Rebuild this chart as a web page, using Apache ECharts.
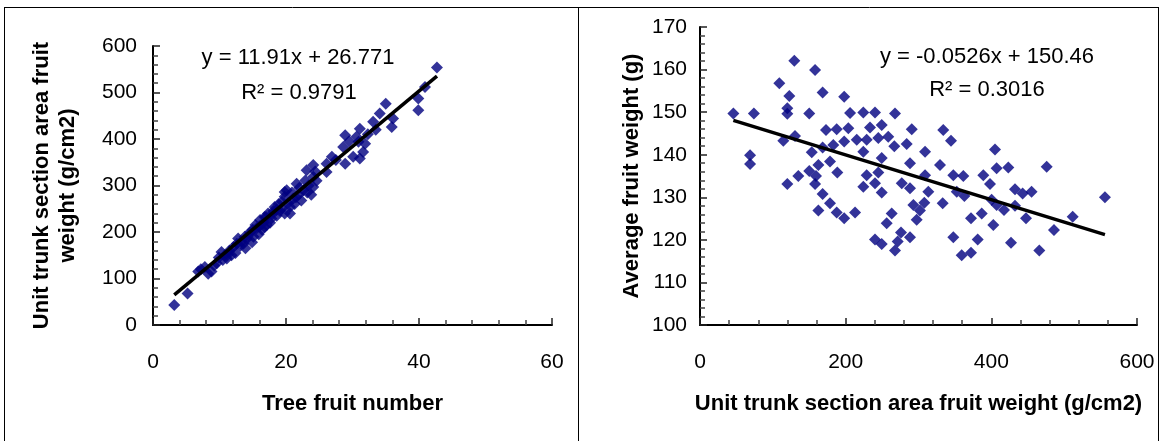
<!DOCTYPE html>
<html>
<head>
<meta charset="utf-8">
<script src="https://cdn.jsdelivr.net/npm/echarts@6/dist/echarts.min.js"></script>
<style>
  html, body { margin: 0; padding: 0; background: #fff; }
  #chart { width: 1162px; height: 441px; }
</style>
</head>
<body>
<div id="chart"></div>
<script>
// Left panel: tree fruit number vs. unit trunk section area fruit weight
const fruitNumber = [3.2, 5.2, 6.8, 7.8, 8.3, 8.8, 9.2, 9.6, 10.3, 10.5, 11.1, 11.5, 11.8, 12.1, 12.4, 12.8, 13.1, 13.6, 13.8, 14.1,
  14.6, 14.9, 15.1, 15.4, 15.6, 15.9, 16.1, 16.4, 16.8, 17.0, 17.3, 17.6, 17.8, 18.1, 18.3, 18.6, 18.9, 19.4, 19.4, 19.8,
  19.8, 19.8, 20.1, 20.3, 20.6, 20.6, 21.1, 21.6, 21.9, 22.3, 22.6, 22.9, 23.1, 23.4, 23.8, 24.1, 24.1, 24.1, 24.4, 26.1,
  26.1, 26.9, 27.5, 28.6, 28.9, 28.9, 29.5, 30.1, 30.6, 30.9, 31.1, 31.1, 31.6, 31.9, 32.3, 33.1, 33.5, 34.1, 35.0, 35.9,
  36.1, 39.9, 39.9, 40.9, 42.7, 7.2, 9.9, 10.8, 12.6, 13.3, 14.3, 15.0, 16.0, 16.6, 17.1, 17.9, 18.6, 19.1, 20.9, 21.3,
  22.0, 23.2, 24.6, 13.9, 11.3, 16.8, 21.5];
const unitWeightA = [43, 68, 115, 125, 110, 115, 128, 133, 157, 140, 143, 160, 150, 168, 155, 186, 170, 175, 190, 185,
  200, 178, 190, 215, 208, 195, 226, 205, 211, 232, 240, 220, 229, 245, 254, 235, 260, 265, 251, 286,
  276, 240, 290, 262, 254, 240, 272, 304, 280, 268, 290, 311, 333, 300, 280, 344, 319, 297, 330, 347,
  329, 362, 355, 383, 408, 347, 395, 362, 405, 394, 422, 358, 372, 390, 410, 437, 420, 455, 476, 426,
  444, 487, 462, 512, 554, 120, 145, 150, 175, 180, 192, 205, 212, 220, 215, 238, 248, 245, 285, 260,
  295, 285, 310, 165, 152, 232, 275];

// Right panel: unit trunk section area fruit weight vs. average fruit weight
const unitWeightB = [45.8, 74, 129.5, 158, 108.9, 122.6, 168.4, 198, 119.9, 119.9, 150, 206, 68.7, 68.7, 130.4, 114.4, 173, 187.7, 203.6, 168.4,
  183, 198, 153.4, 162.5, 178.5, 150, 135, 159.3, 188.5, 119.9, 158, 168.4, 178.5, 162.5, 187.7, 198, 224.2, 240.3, 267.7, 233.4,
  249.5, 290.7, 334, 344.6, 215.2, 228.9, 244.8, 258.5, 266.8, 283.8, 224.2, 309, 249.5, 288.3, 329.5, 405, 228.9, 244.8, 309, 347.8,
  361.5, 389, 224.2, 240.3, 277, 288.3, 249.5, 313.5, 352.5, 363, 398.2, 400.4, 293, 308, 333.2, 212.9, 263.2, 302, 386.8, 372.1,
  256.3, 297.5, 402.7, 240.3, 249.5, 276, 288.3, 271.4, 267.7, 347.8, 381.3, 359.3, 372.1, 407.3, 423.3, 476, 432.5, 443, 455.2, 556,
  407.3, 417.4, 432.5, 447.6, 511.7, 486, 427, 465.9];
const avgWeight = [149.7, 149.7, 162.1, 159.9, 156.8, 153.8, 154.6, 153.6, 150.9, 149.6, 149.7, 149.8, 139.9, 137.8, 144.4, 143.3, 145.8, 146, 146.2, 141.7,
  142.3, 143.1, 140.6, 137.6, 138.4, 136.2, 135, 135, 135.8, 133.1, 133.1, 130.8, 128.6, 126.9, 126.4, 125.1, 149.9, 149.9, 149.7, 146.4,
  147, 146, 145.8, 143.3, 143.5, 143.5, 143.9, 144.2, 142, 142.5, 140.7, 140.7, 139.2, 138, 137.6, 141.2, 135.2, 135.8, 135.2, 135.2,
  135, 135.2, 132.5, 133.3, 133.3, 132.1, 131.1, 131.3, 131.3, 130.3, 133.1, 129.4, 128.2, 128.7, 128.6, 126.4, 126.2, 126.9, 126.2, 125.1,
  123.9, 124.7, 123.5, 120.1, 119, 121.7, 120.6, 119.6, 117.5, 120.6, 120.1, 116.4, 117, 136.8, 137, 137.2, 131.9, 130.9, 131.3, 130,
  128.2, 127, 128, 125.1, 125.4, 122.3, 119.3, 117.5];

// Linear fits (slope, intercept) and their labels
const fitA = [11.91, 26.771];
const fitB = [-0.0526, 150.46];
const fitTextA = ['y = 11.91x + 26.771', 'R\u00b2 = 0.9791'];
const fitTextB = ['y = -0.0526x + 150.46', 'R\u00b2 = 0.3016'];

// Axis titles
const xTitleA = 'Tree fruit number';
const yTitleA = 'Unit trunk section area fruit\nweight (g/cm2)';
const xTitleB = 'Unit trunk section area fruit weight (g/cm2)';
const yTitleB = 'Average fruit weight (g)';

const FONT = "'Liberation Sans', Arial, sans-serif";
const LABEL = { color: '#000', fontSize: 21, fontFamily: FONT };

function pairs(xs, ys) { return xs.map((x, i) => [x, ys[i]]); }
function fitLine(xs, fit) {
  const lo = Math.min(...xs), hi = Math.max(...xs);
  return [[lo, fit[0] * lo + fit[1]], [hi, fit[0] * hi + fit[1]]];
}

function valueAxis(extra, labelMargin) {
  return Object.assign({
    type: 'value',
    splitLine: { show: false },
    axisLine: { show: true, onZero: false, lineStyle: { color: '#000', width: 2 } },
    axisTick: { show: true, inside: true, length: 7, lineStyle: { color: '#222', width: 1.5 } },
    minorTick: { show: true, splitNumber: 5, length: 5, lineStyle: { color: '#444', width: 1.5 } },
    axisLabel: Object.assign({ margin: labelMargin }, LABEL),
    nameLocation: 'middle',
    nameTextStyle: { color: '#000', fontSize: 22, fontWeight: 'bold', fontFamily: FONT, lineHeight: 26 }
  }, extra);
}

const chart = echarts.init(document.getElementById('chart'), null, { renderer: 'canvas' });

chart.setOption({
  animation: false,
  backgroundColor: '#fff',
  grid: [
    { left: 153, top: 46, width: 399, height: 279 },
    { left: 700, top: 27, width: 437, height: 298 }
  ],
  xAxis: [
    valueAxis({ gridIndex: 0, min: 0, max: 60, interval: 20, name: xTitleA, nameGap: 66 }, 27),
    valueAxis({ gridIndex: 1, min: 0, max: 600, interval: 200, name: xTitleB, nameGap: 66 }, 27)
  ],
  yAxis: [
    valueAxis({ gridIndex: 0, min: 0, max: 600, interval: 100, name: yTitleA, nameGap: 72 }, 16),
    valueAxis({ gridIndex: 1, min: 100, max: 170, interval: 10, name: yTitleB, nameGap: 55 }, 13)
  ],
  series: [
    { type: 'scatter', xAxisIndex: 0, yAxisIndex: 0, data: pairs(fruitNumber, unitWeightA),
      symbol: 'diamond', symbolSize: 12, itemStyle: { color: '#000080' }, z: 2 },
    { type: 'line', xAxisIndex: 0, yAxisIndex: 0, data: fitLine(fruitNumber, fitA),
      symbol: 'none', lineStyle: { color: '#000', width: 3.5 }, z: 3 },
    { type: 'scatter', xAxisIndex: 1, yAxisIndex: 1, data: pairs(unitWeightB, avgWeight),
      symbol: 'diamond', symbolSize: 12, itemStyle: { color: '#000080' }, z: 2 },
    { type: 'line', xAxisIndex: 1, yAxisIndex: 1, data: fitLine(unitWeightB, fitB),
      symbol: 'none', lineStyle: { color: '#000', width: 3.5 }, z: 3 }
  ],
  graphic: [
    // panel frames
    { type: 'line', shape: { x1: 4, y1: 7.5, x2: 1158, y2: 7.5 }, style: { stroke: '#000', lineWidth: 1 } },
    { type: 'line', shape: { x1: 4.5, y1: 7, x2: 4.5, y2: 441 }, style: { stroke: '#000', lineWidth: 1 } },
    { type: 'line', shape: { x1: 578.5, y1: 7, x2: 578.5, y2: 441 }, style: { stroke: '#000', lineWidth: 1 } },
    { type: 'line', shape: { x1: 1158.5, y1: 7, x2: 1158.5, y2: 441 }, style: { stroke: '#000', lineWidth: 1 } },
    // fit equations
    { type: 'text', x: 298, y: 58, z: 10, style: { text: fitTextA[0], font: '22px ' + FONT, fill: '#000', textAlign: 'center', textVerticalAlign: 'middle', verticalAlign: 'middle' } },
    { type: 'text', x: 299, y: 93, z: 10, style: { text: fitTextA[1], font: '22px ' + FONT, fill: '#000', textAlign: 'center', textVerticalAlign: 'middle', verticalAlign: 'middle' } },
    { type: 'text', x: 987, y: 57, z: 10, style: { text: fitTextB[0], font: '22px ' + FONT, fill: '#000', textAlign: 'center', textVerticalAlign: 'middle', verticalAlign: 'middle' } },
    { type: 'text', x: 987, y: 90, z: 10, style: { text: fitTextB[1], font: '22px ' + FONT, fill: '#000', textAlign: 'center', textVerticalAlign: 'middle', verticalAlign: 'middle' } }
  ]
});
</script>
</body>
</html>
